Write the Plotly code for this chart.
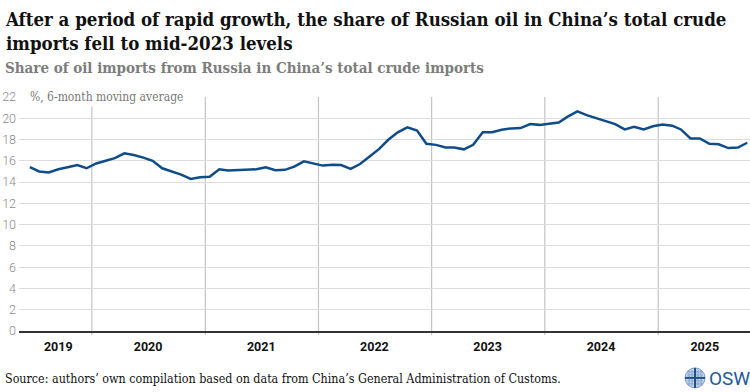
import pandas as pd
import plotly.graph_objects as go

# ---- data ----
months = pd.date_range("2019-06-01", "2025-10-01", freq="MS") + pd.Timedelta(days=14)
share = [
    15.4, 15.0, 14.9, 15.2, 15.4, 15.6, 15.3,                                  # 2019 Jun-Dec
    15.75, 16.0, 16.25, 16.7, 16.55, 16.3, 16.0, 15.3, 15.0, 14.7, 14.3, 14.45,  # 2020
    14.5, 15.2, 15.1, 15.12, 15.12, 15.2, 15.4, 15.12, 15.15, 15.45, 15.95, 15.75,  # 2021
    15.55, 15.62, 15.6, 15.25, 15.7, 16.4, 17.1, 18.0, 18.7, 19.15, 18.85, 17.6,  # 2022
    17.5, 17.25, 17.25, 17.08, 17.5, 18.68, 18.68, 18.92, 19.05, 19.08, 19.45, 19.38,  # 2023
    19.52, 19.6, 20.15, 20.65, 20.3, 20.0, 19.75, 19.45, 18.95, 19.2, 18.95, 19.25,  # 2024
    19.42, 19.3, 18.95, 18.1, 18.1, 17.6, 17.55, 17.2, 17.25, 17.7,  # 2025 Jan-Oct
]
years = [2019, 2020, 2021, 2022, 2023, 2024, 2025]
y_ticks = list(range(0, 23, 2))

title = "After a period of rapid growth, the share of Russian oil in China’s total crude<br>imports fell to mid-2023 levels"
subtitle = "Share of oil imports from Russia in China’s total crude imports"
unit_note = "%, 6-month moving average"
source = "Source: authors’ own compilation based on data from China’s General Administration of Customs."

# ---- geometry helpers (pixel -> paper) ----
W, H = 750, 392
ML, MR, MT, MB = 18.5, 0, 96.5, 61
PW, PH = W - ML - MR, H - MT - MB


def px_x(px):
    return (px - ML) / PW


def px_y(py):
    return (H - MB - py) / PH


SERIF = "DejaVu Serif Condensed, DejaVu Serif, serif"

fig = go.Figure()
fig.add_trace(go.Scatter(
    x=months, y=share, mode="lines",
    line=dict(color="#0f4c8a", width=2.5),
    hoverinfo="skip", showlegend=False,
))

s = pd.Series(months)
centers = [s[s.dt.year == yr].mean() for yr in years]

shapes = []
for yr in years[1:]:
    shapes.append(dict(type="line", xref="x", yref="paper",
                       x0=pd.Timestamp(f"{yr}-01-01"), x1=pd.Timestamp(f"{yr}-01-01"),
                       y0=-4 / PH, y1=1, line=dict(color="#c4c4c4", width=1.2), layer="below"))

# simple OSW logo glyph
cx, cy, r = 695, 378, 10
shapes.append(dict(type="circle", xref="paper", yref="paper",
                   x0=px_x(cx - r), x1=px_x(cx + r), y0=px_y(cy + r), y1=px_y(cy - r),
                   fillcolor="#c5d6eb", line=dict(color="#7c9ccb", width=1)))
for d in (-6, -3, 3, 6):
    shapes.append(dict(type="line", xref="paper", yref="paper",
                       x0=px_x(cx + d), x1=px_x(cx + d), y0=px_y(cy + 8), y1=px_y(cy - 8),
                       line=dict(color="#7c9ccb", width=0.8)))
    shapes.append(dict(type="line", xref="paper", yref="paper",
                       x0=px_x(cx - 8), x1=px_x(cx + 8), y0=px_y(cy + d), y1=px_y(cy + d),
                       line=dict(color="#7c9ccb", width=0.8)))
shapes.append(dict(type="line", xref="paper", yref="paper",
                   x0=px_x(cx), x1=px_x(cx), y0=px_y(cy + 10), y1=px_y(cy - 10),
                   line=dict(color="#1f4f8a", width=2)))
shapes.append(dict(type="line", xref="paper", yref="paper",
                   x0=px_x(cx - 10), x1=px_x(cx + 10), y0=px_y(cy), y1=px_y(cy),
                   line=dict(color="#1f4f8a", width=2)))

annotations = [
    dict(text=f"<b>{title}</b>", xref="paper", yref="paper", x=px_x(2), y=px_y(6),
         xanchor="left", yanchor="top", align="left", showarrow=False,
         font=dict(family=SERIF, size=18.5, color="#111111")),
    dict(text=f"<b>{subtitle}</b>", xref="paper", yref="paper", x=px_x(2), y=px_y(56),
         xanchor="left", yanchor="top", align="left", showarrow=False,
         font=dict(family=SERIF, size=15, color="#7d7d7d")),
    dict(text=unit_note, xref="paper", yref="y", x=px_x(27), y=22,
         xanchor="left", yanchor="middle", showarrow=False, bgcolor="white",
         borderpad=2, font=dict(family=SERIF, size=12, color="#777777")),
    dict(text=source, xref="paper", yref="paper", x=px_x(2), y=px_y(379),
         xanchor="left", yanchor="middle", showarrow=False,
         font=dict(family=SERIF, size=12.4, color="#111111")),
    dict(text="OSW", xref="paper", yref="paper", x=px_x(707), y=px_y(379),
         xanchor="left", yanchor="middle", showarrow=False,
         font=dict(family="Liberation Sans Narrow, Roboto, sans-serif", size=19, color="#1f5b99")),
]

fig.update_layout(
    width=W, height=H,
    margin=dict(l=ML, r=MR, t=MT, b=MB, pad=0),
    paper_bgcolor="white", plot_bgcolor="white",
    showlegend=False, hovermode=False,
    shapes=shapes, annotations=annotations,
    xaxis=dict(
        range=[pd.Timestamp("2019-05-11"), pd.Timestamp("2025-10-24")],
        tickmode="array", tickvals=centers, ticktext=[f"<b>{y}</b>" for y in years],
        ticks="", showgrid=False, zeroline=False,
        showline=True, linecolor="#333333", linewidth=1.5,
        tickfont=dict(family="Roboto, sans-serif", size=12.5, color="#111111"),
        ticklabelstandoff=3,
    ),
    yaxis=dict(
        range=[0, 22], tickmode="array", tickvals=y_ticks,
        showgrid=True, gridcolor="#dddddd", gridwidth=1, zeroline=False,
        showline=False, ticks="",
        tickfont=dict(family="Roboto, sans-serif", size=12.5, color="#8a8a8a", weight=300),
        ticklabelstandoff=2,
    ),
)

fig.write_html("out.html", config={"displayModeBar": False},
               post_script="document.body.style.margin='0';")
